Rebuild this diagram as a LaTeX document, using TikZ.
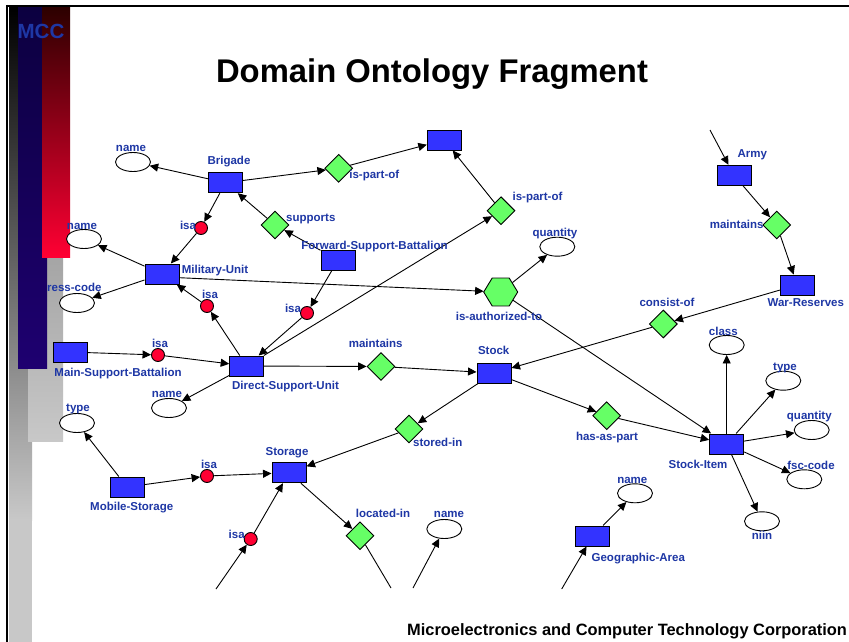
\documentclass[tikz,border=0pt]{standalone}
\usepackage{fontspec}
\setmainfont{Liberation Sans}
\usetikzlibrary{shapes.geometric,arrows.meta}
\definecolor{lblue}{RGB}{30,55,165}
\definecolor{boxblue}{RGB}{51,51,255}
\definecolor{relgreen}{RGB}{102,255,102}
\definecolor{isared}{RGB}{255,0,51}
\definecolor{navytop}{RGB}{12,0,64}
\definecolor{navybot}{RGB}{30,0,112}
\definecolor{redtop}{RGB}{45,0,0}
\definecolor{redbot}{RGB}{255,0,51}
\definecolor{lgray}{RGB}{200,200,200}
\definecolor{mgray}{RGB}{165,165,165}
\begin{document}
\begin{tikzpicture}[x=1pt,y=-1pt,
  ent/.style={rectangle,draw=black,fill=boxblue,minimum width=34pt,minimum height=20pt,inner sep=0pt,line width=1pt},
  rel/.style={diamond,draw=black,fill=relgreen,minimum width=28pt,minimum height=28pt,inner sep=0pt,line width=0.9pt},
  isac/.style={circle,draw=black,fill=isared,minimum size=13pt,inner sep=0pt,line width=0.9pt},
  attr/.style={ellipse,draw=black,fill=white,minimum width=35pt,minimum height=19pt,inner sep=0pt,line width=0.9pt},
  hexa/.style={regular polygon,regular polygon sides=6,draw=black,fill=relgreen,minimum size=34pt,inner sep=0pt,line width=0.9pt,yscale=0.95},
  lab/.style={text=lblue,font=\bfseries\fontsize{11.5}{12}\selectfont,inner sep=0pt,text height=8pt,text depth=2.5pt},
  arr/.style={draw=black,line width=0.9pt,-{Triangle[length=8.5pt,width=8pt]}},
  plain/.style={draw=black,line width=0.9pt}]
\useasboundingbox (0,0) rectangle (849,642);
\fill[white] (0,0) rectangle (849,642);
% side bars
\shade[top color=black,bottom color=lgray] (9,8) rectangle (32,520);
\fill[lgray] (9,519) rectangle (32,642);
\shade[top color=mgray,bottom color=lgray] (28,257) rectangle (63,441);
\shade[top color=navytop,bottom color=navybot] (18,8) rectangle (47,368);
\shade[top color=redtop,bottom color=redbot] (42,8) rectangle (70,257);
% frame
\draw[line width=2pt] (7,6) -- (849,6);
\draw[line width=2pt] (7,5) -- (7,642);
\node[text=lblue,font=\bfseries\fontsize{20.5}{22}\selectfont,anchor=base,inner sep=0pt] (mcc) at (41,39) {MCC};
\node[font=\bfseries\fontsize{32.8}{34}\selectfont,anchor=base,inner sep=0pt] (title) at (432,82.5) {Domain Ontology Fragment};
\node[font=\bfseries\fontsize{16.4}{18}\selectfont,anchor=base west,inner sep=0pt] (footer) at (407,635) {Microelectronics and Computer Technology Corporation};
% entities
\node[ent] (brig) at (225.5,182.7) {};
\node[ent] (topbox) at (444.3,140) {};
\node[ent] (mu) at (162,274) {};
\node[ent] (fsb) at (338,260) {};
\node[ent] (msb) at (70,352) {};
\node[ent] (dsu) at (246.7,366) {};
\node[ent] (ms) at (127,487) {};
\node[ent] (stor) at (289,472.7) {};
\node[ent] (stock) at (494,373) {};
\node[ent] (si) at (726.7,444) {};
\node[ent] (geo) at (592.7,536) {};
\node[ent] (army) at (734,175.3) {};
\node[ent] (wr) at (797.3,285) {};
% relations
\node[rel] (ipo1) at (338.7,168.3) {};
\node[rel] (ipo2) at (501,210.7) {};
\node[rel] (sup) at (275,225) {};
\node[rel] (mnt1) at (381,366.5) {};
\node[rel] (stin) at (409,429) {};
\node[rel] (loc) at (360,535.7) {};
\node[rel] (hap) at (606.7,415.7) {};
\node[rel] (mnt2) at (776.7,225) {};
\node[rel] (cons) at (663.3,324) {};
\node[hexa] (auth) at (500.7,292) {};
% isa circles
\node[isac] (isa1) at (201,228) {};
\node[isac] (isa2) at (207,306) {};
\node[isac] (isa3) at (307,313) {};
\node[isac] (isa4) at (158,355) {};
\node[isac] (isa5) at (207,476) {};
\node[isac] (isa6) at (250.7,539) {};
% attributes
\node[attr] (n1) at (133,162) {};
\node[attr] (n2) at (84,239) {};
\node[attr] (addr) at (77,303) {};
\node[attr] (n3) at (169,408) {};
\node[attr] (type1) at (77,423) {};
\node[attr] (n4) at (444.3,529) {};
\node[attr] (qty1) at (557.3,246.7) {};
\node[attr] (cls) at (726.7,345) {};
\node[attr] (type2) at (783.3,380.7) {};
\node[attr] (qty2) at (811.7,430) {};
\node[attr] (fsc) at (804.3,479.3) {};
\node[attr] (niin) at (762,521.3) {};
\node[attr] (n5) at (635,493.3) {};
% dangling ends
\coordinate (dA) at (710,130);
\coordinate (dS) at (216,589);
\coordinate (dL) at (391,588);
\coordinate (dN) at (413,588);
\coordinate (dG) at (561.7,589);
% edges
\draw[arr] (brig) -- (n1);
\draw[arr] (brig) -- (ipo1);
\draw[arr] (ipo1) -- (topbox);
\draw[arr] (brig) -- (isa1);
\draw[arr] (isa1) -- (mu);
\draw[arr] (fsb) -- (sup);
\draw[arr] (sup) -- (brig);
\draw[arr] (mu) -- (n2);
\draw[arr] (mu) -- (addr);
\draw[arr] (mu.-12) -- (auth);
\draw[arr] (auth) -- (qty1);
\draw[arr] (auth) -- (si);
\draw[arr] (dsu) -- (isa2);
\draw[arr] (isa2) -- (mu);
\draw[arr] (fsb) -- (isa3);
\draw[arr] (isa3) -- (dsu);
\draw[arr] (dsu) -- (ipo2);
\draw[arr] (ipo2) -- (topbox);
\draw[arr] (msb) -- (isa4);
\draw[arr] (isa4) -- (dsu);
\draw[arr] (dsu) -- (n3);
\draw[arr] (dsu) -- (mnt1);
\draw[arr] (mnt1) -- (stock);
\draw[arr] (stock) -- (stin);
\draw[arr] (stin) -- (stor);
\draw[arr] (stock) -- (hap);
\draw[arr] (hap) -- (si);
\draw[arr] (wr) -- (cons);
\draw[arr] (cons) -- (stock);
\draw[arr] (army) -- (mnt2);
\draw[arr] (mnt2) -- (wr);
\draw[arr] (dA) -- (army);
\draw[arr] (si) -- (cls);
\draw[arr] (si) -- (type2);
\draw[arr] (si) -- (qty2);
\draw[arr] (si) -- (fsc);
\draw[arr] (si) -- (niin);
\draw[arr] (ms) -- (type1);
\draw[arr] (ms) -- (isa5);
\draw[arr] (isa5) -- (stor);
\draw[arr] (dS) -- (isa6);
\draw[arr] (isa6) -- (stor);
\draw[arr] (stor) -- (loc);
\draw[plain] (loc) -- (dL);
\draw[arr] (dN) -- (n4);
\draw[arr] (dG) -- (geo);
\draw[arr] (geo) -- (n5);
% labels
\node[lab] (l1) at (131,149) {name};
\node[lab] (l2) at (229,162) {Brigade};
\node[lab] (l3) at (188,227) {isa};
\node[lab,anchor=west] (l4) at (286,219) {supports};
\node[lab] (l5) at (82,227) {name};
\node[lab] (l6) at (215,271) {Military-Unit};
\node[lab,anchor=west] (l7) at (47,289) {ress-code};
\node[lab] (l8) at (210,296) {isa};
\node[lab] (l9) at (374.5,246.7) {Forward-Support-Battalion};
\node[lab] (l10) at (293,310) {isa};
\node[lab] (l11) at (160,345) {isa};
\node[lab] (l12) at (118,374) {Main-Support-Battalion};
\node[lab] (l13) at (285.5,387) {Direct-Support-Unit};
\node[lab] (l14) at (375.7,345) {maintains};
\node[lab] (l15) at (167,395) {name};
\node[lab] (l16) at (78,409) {type};
\node[lab] (l17) at (131.7,508) {Mobile-Storage};
\node[lab] (l18) at (209,466) {isa};
\node[lab] (l19) at (287,452.7) {Storage};
\node[lab] (l20) at (236.7,536) {isa};
\node[lab] (l21) at (437.7,444) {stored-in};
\node[lab] (l22) at (383,515) {located-in};
\node[lab] (l23) at (449,515) {name};
\node[lab] (l24) at (493.7,352) {Stock};
\node[lab] (l25) at (607,437.3) {has-as-part};
\node[lab] (l26) at (698,465.7) {Stock-Item};
\node[lab] (l27) at (723.3,332.7) {class};
\node[lab] (l28) at (785,367.7) {type};
\node[lab] (l29) at (809.3,416.7) {quantity};
\node[lab] (l30) at (811,466.7) {fsc-code};
\node[lab] (l31) at (762,536.7) {niin};
\node[lab] (l32) at (632.3,480.7) {name};
\node[lab] (l33) at (638.3,558.3) {Geographic-Area};
\node[lab] (l34) at (374.3,176) {is-part-of};
\node[lab] (l35) at (537.5,197.3) {is-part-of};
\node[lab] (l36) at (555,233.3) {quantity};
\node[lab] (l37) at (499,317.3) {is-authorized-to};
\node[lab] (l38) at (752.3,155) {Army};
\node[lab] (l39) at (736.7,226) {maintains};
\node[lab] (l40) at (805.8,303.3) {War-Reserves};
\node[lab] (l41) at (667,304) {consist-of};
\end{tikzpicture}
\end{document}
